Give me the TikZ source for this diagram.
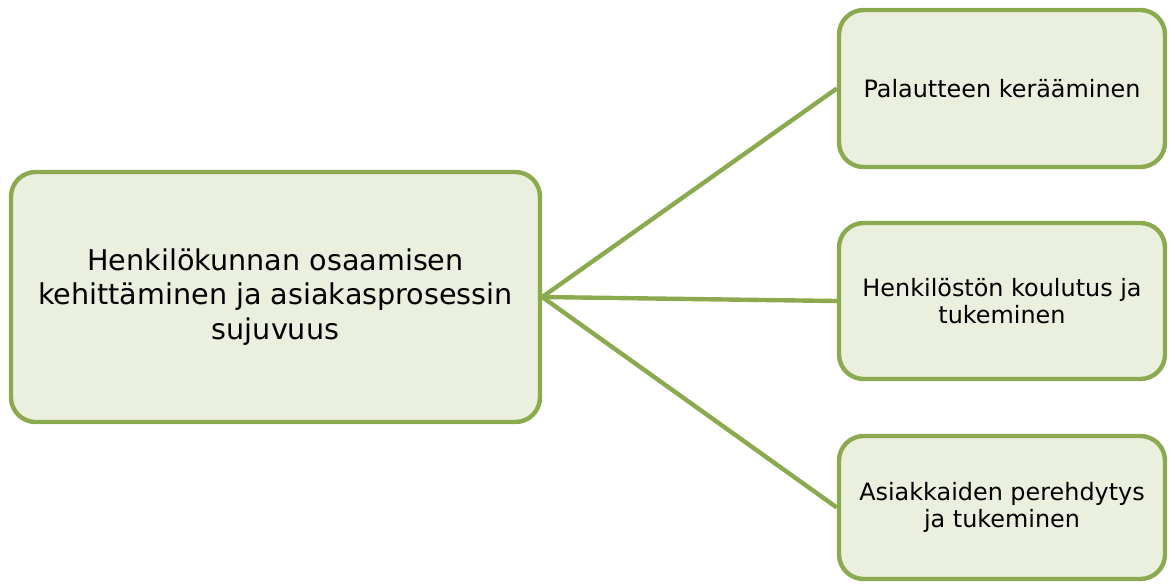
\documentclass[tikz,border=0pt]{standalone}
\usepackage{fontspec}
\setmainfont{DejaVu Sans}
\definecolor{leafline}{RGB}{139,170,80}
\definecolor{leaffill}{RGB}{234,239,222}
\begin{document}
\begin{tikzpicture}[x=0.02cm,y=-0.02cm,
    box/.style={draw=leafline,fill=leaffill,line width=2.5pt,rounded corners=14pt,align=center,inner sep=0pt},
    link/.style={draw=leafline,line width=2.5pt}]
    \useasboundingbox (0,0) rectangle (1170,583);
    \node[box,minimum width=529*0.02cm,minimum height=250*0.02cm,font=\fontsize{16.3}{19.5}\selectfont] (main) at (275.5,297)
        {Henkilökunnan osaamisen\\kehittäminen ja asiakasprosessin\\sujuvuus};
    \node[box,minimum width=326*0.02cm,minimum height=157*0.02cm,font=\fontsize{13.6}{15.5}\selectfont] (feedback) at (1002,88.5)
        {Palautteen kerääminen};
    \node[box,minimum width=326*0.02cm,minimum height=156*0.02cm,font=\fontsize{13.6}{15.5}\selectfont] (staff) at (1002,301)
        {Henkilöstön koulutus ja\\tukeminen};
    \node[box,minimum width=326*0.02cm,minimum height=143*0.02cm,font=\fontsize{13.6}{15.5}\selectfont] (clients) at (1002,507.5)
        {Asiakkaiden perehdytys\\ja tukeminen};
    \draw[link] (main.east) -- (feedback.west);
    \draw[link] (main.east) -- (staff.west);
    \draw[link] (main.east) -- (clients.west);
\end{tikzpicture}
\end{document}
